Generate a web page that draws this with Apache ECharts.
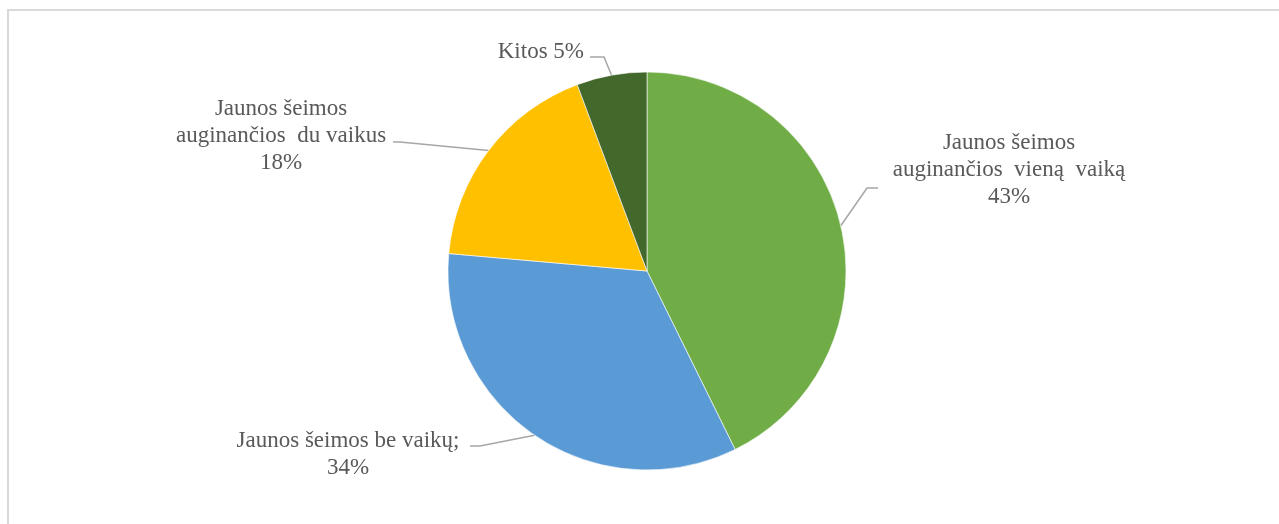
<!DOCTYPE html>
<html><head><meta charset="utf-8">
<script src="https://cdn.jsdelivr.net/npm/echarts@6/dist/echarts.min.js"></script>
<style>html,body{margin:0;padding:0;background:#fff;} #c{width:1279px;height:524px;}</style>
</head><body><div id="c"></div>
<script>
// ---- data ----
const categories = ['Jaunos šeimos\nauginančios  vieną  vaiką', 'Jaunos šeimos be vaikų;', 'Jaunos šeimos\nauginančios  du vaikus', 'Kitos'];
const shares = [42.7, 33.7, 17.9, 5.7];          // slice sizes as drawn
const labelPercents = [43, 34, 18, 5];           // percentages printed on the labels
const labelJoiners = ['\n', '\n', '\n', ' '];

// ---- styling / layout ----
const colors = ['#70AD47', '#5B9BD5', '#FFC000', '#43682B'];
const labelPlacement = [
  { x: 1009, y: 170, align: 'center', bend: [[867, 188], [878, 188]] },
  { x: 348, y: 454, align: 'center', bend: [[480, 446], [470, 446]] },
  { x: 281, y: 136, align: 'center', bend: [[400, 142], [393, 142]] },
  { x: 584, y: 52, align: 'right', bend: [[604, 57], [590, 57]] }
];

const chart = echarts.init(document.getElementById('c'), null, { renderer: 'canvas' });
chart.setOption({
  animation: false,
  backgroundColor: '#ffffff',
  graphic: [{
    type: 'polyline', silent: true,
    shape: { points: [[8, 700], [8, 10], [1500, 10]] },
    style: { fill: null, stroke: '#D9D9D9', lineWidth: 2 }
  }],
  series: [{
    type: 'pie',
    center: [647, 271],
    radius: 199,
    startAngle: 90,
    clockwise: true,
    avoidLabelOverlap: false,
    itemStyle: { borderColor: '#ffffff', borderWidth: 0.6 },
    label: {
      show: true,
      position: 'outside',
      fontFamily: 'Liberation Serif',
      fontSize: 23,
      lineHeight: 27,
      color: '#595959',
      formatter: p => categories[p.dataIndex] + labelJoiners[p.dataIndex] + labelPercents[p.dataIndex] + '%'
    },
    labelLine: { show: true, smooth: false, lineStyle: { color: '#A6A6A6', width: 1.5 } },
    labelLayout: function (params) {
      const lp = labelPlacement[params.dataIndex];
      const start = params.labelLinePoints ? params.labelLinePoints[0] : null;
      const res = { x: lp.x, y: lp.y, align: lp.align, verticalAlign: 'middle' };
      if (start) res.labelLinePoints = [start].concat(lp.bend);
      return res;
    },
    data: categories.map((n, i) => ({ name: n, value: shares[i], itemStyle: { color: colors[i] } }))
  }]
});
</script></body></html>
